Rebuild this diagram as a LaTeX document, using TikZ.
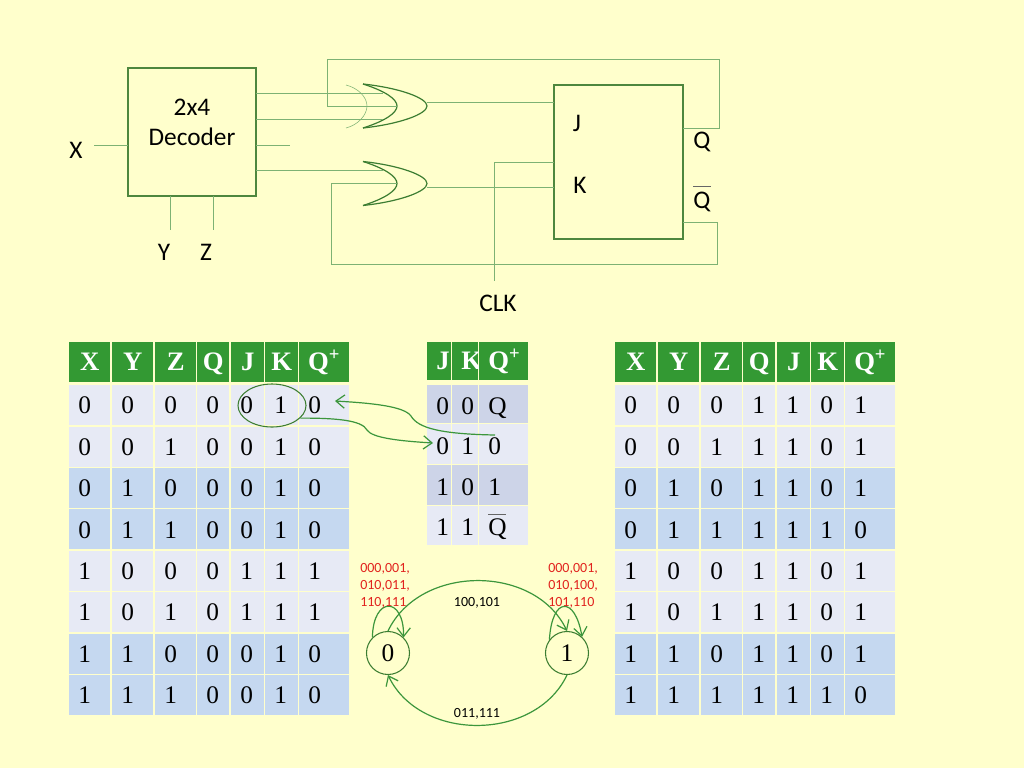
\documentclass[tikz,border=0pt]{standalone}
\usepackage{fontspec}
\setmainfont{Liberation Serif}
\newfontfamily\calfont{Carlito}
\usetikzlibrary{arrows.meta,shapes.geometric}

\definecolor{bgyellow}{RGB}{255,255,204}
\definecolor{headgreen}{RGB}{51,153,51}
\definecolor{cellpale}{RGB}{231,234,245}
\definecolor{cellblue}{RGB}{197,216,240}
\definecolor{cellshade}{RGB}{205,212,232}
\definecolor{boxgreen}{RGB}{78,135,62}
\definecolor{wiregreen}{RGB}{125,178,115}
\definecolor{gatedark}{RGB}{60,125,50}
\definecolor{arrowgreen}{RGB}{60,150,60}
\definecolor{redtext}{RGB}{225,35,30}

\tikzset{
  bodycell/.style={anchor=north west, inner ysep=0pt, inner xsep=6.8pt, text height=12.8pt, text depth=0pt, align=left, font=\fontsize{19}{21}\selectfont},
  headcell/.style={bodycell, fill=headgreen, text=white, font=\fontsize{20}{22}\selectfont\bfseries},
  circuitbox/.style={draw=boxgreen, line width=1.1pt, inner sep=0pt, outer sep=0pt},
  wire/.style={draw=wiregreen, line width=0.6pt},
  gate/.style={draw=gatedark, line width=0.9pt},
  cirlabel/.style={inner sep=0pt, font=\calfont\fontsize{19}{22.5}\selectfont},
  statenode/.style={draw=gatedark, circle, line width=0.8pt, inner sep=0pt, minimum size=32.25pt, font=\fontsize{19}{21}\selectfont},
  trans/.style={draw=arrowgreen, line width=0.9pt, -{Straight Barb[length=6.5pt,width=10pt]}},
  edgelabel/.style={inner sep=0pt, font=\calfont\fontsize{10.5}{12.75}\selectfont},
  redlabel/.style={edgelabel, text=redtext, align=left, anchor=north west}
}

\newcommand{\qbar}{\leavevmode\rlap{\raisebox{.82em}{\color{black!60}\rule{.7em}{.04em}}}Q}
\newcommand{\qplus}{Q\textsuperscript{+}}
\def\colx{{69,112,155,197,231,265,299}}
\def\colw{{41,41,41,32,33,33,50}}

\newcommand{\truthtable}[3]{%
  \foreach \k/\hd in {1/X,2/Y,3/Z,4/Q,5/J,6/K,7/\qplus} {
    \pgfmathsetmacro\cx{\colx[\k-1]+#2}
    \pgfmathsetmacro\cw{\colw[\k-1]*0.75}
    \node[headcell, align=center, inner xsep=0pt, text width=\cw pt, minimum height=30pt] (#1h\k) at (\cx,342) {\hd};
  }
  \foreach [count=\i] \vals in {#3} {
    \pgfmathtruncatemacro\pale{mod(\i-1,4)<2}
    \ifnum\pale=1 \def\rowfill{cellpale}\else\def\rowfill{cellblue}\fi
    \pgfmathsetmacro\cy{385+41.4*(\i-1)}
    \foreach [count=\k] \v in \vals {
      \pgfmathsetmacro\cx{\colx[\k-1]+#2}
      \pgfmathsetmacro\tw{\colw[\k-1]*0.75-13.6}
      \node[bodycell, fill=\rowfill, text width=\tw pt, minimum height=30pt] (#1\i\k) at (\cx,\cy) {\v};
    }
  }
}

\begin{document}
\begin{tikzpicture}[x=0.75pt,y=-0.75pt]
  \fill[bgyellow] (0,0) rectangle (1024,768);

  % circuit
  \node[circuitbox, minimum width=96pt, minimum height=96pt] (dec) at (192,132) {};
  \node[cirlabel, align=center] (declabel) at (192,122) {2x4\\Decoder};
  \node[circuitbox, minimum width=96.75pt, minimum height=115.5pt] (ff) at (618.5,162) {};

  \node[cirlabel] (xlabel) at (76,150) {X};
  \node[cirlabel] (ylabel) at (164,252) {Y};
  \node[cirlabel] (zlabel) at (206,252) {Z};
  \node[cirlabel] (jlabel) at (577,123) {J};
  \node[cirlabel] (klabel) at (580,185) {K};
  \node[cirlabel] (qlabel) at (702,142) {Q};
  \node[cirlabel, anchor=base] (qblabel) at (702,208) {\qbar};
  \node[cirlabel] (clklabel) at (498,303) {CLK};

  \foreach \g/\y in {1/106,2/183.5} {
    \draw[gate] (363,\y-22) .. controls (385,\y-15) and (397,\y-7) .. (397,\y) .. controls (397,\y+7) and (385,\y+15) .. (363,\y+22);
    \draw[gate] (363,\y-22) .. controls (400,\y-18) and (427,\y-8) .. (427,\y) .. controls (427,\y+8) and (400,\y+18) .. (363,\y+22);
  }
  \draw[wiregreen, line width=0.4pt] (346,85) .. controls (358,88) and (367,97) .. (367,106) .. controls (367,115) and (358,125) .. (346,128);

  \coordinate (xin) at (94,145);
  \coordinate (yout) at (170,230);
  \coordinate (zout) at (213,230);
  \coordinate (or1a) at (383,93.5);
  \coordinate (or1b) at (383,119);
  \coordinate (deccut) at (290,145);
  \coordinate (or2a) at (383,170);
  \coordinate (or1fb) at (397,106);
  \coordinate (or2fb) at (397,183);
  \coordinate (or1out) at (427,102);
  \coordinate (or2out) at (427,187);
  \coordinate (qout) at (683,128);
  \coordinate (qbout) at (683,222);
  \coordinate (clkin) at (554,162);
  \coordinate (clkend) at (494,281);

  \draw[wire] (xin) -- (dec.west |- xin);
  \draw[wire] (dec.south -| yout) -- (yout);
  \draw[wire] (dec.south -| zout) -- (zout);
  \draw[wire] (dec.east |- or1a) -- (or1a);
  \draw[wire] (dec.east |- or1b) -- (or1b);
  \draw[wire] (dec.east |- deccut) -- (deccut);
  \draw[wire] (dec.east |- or2a) -- (or2a);
  \draw[wire] (or1out) -- (ff.west |- or1out);
  \draw[wire] (or2out) -- (ff.west |- or2out);
  \draw[wire] (clkin) -- (494,162) -- (clkend);
  \draw[wire] (qout) -- (719,128) -- (719,59) -- (327,59) -- (327,106) -- (or1fb);
  \draw[wire] (qbout) -- (717,222) -- (717,264) -- (331,264) -- (331,183) -- (or2fb);

  % tables
  \truthtable{lt}{0}{{0,0,0,0,0,1,0},{0,0,1,0,0,1,0},{0,1,0,0,0,1,0},{0,1,1,0,0,1,0},{1,0,0,0,1,1,1},{1,0,1,0,1,1,1},{1,1,0,0,0,1,0},{1,1,1,0,0,1,0}}
  \truthtable{rt}{546}{{0,0,0,1,1,0,1},{0,0,1,1,1,0,1},{0,1,0,1,1,0,1},{0,1,1,1,1,1,0},{1,0,0,1,1,0,1},{1,0,1,1,1,0,1},{1,1,0,1,1,0,1},{1,1,1,1,1,1,0}}

  \foreach \k/\x/\w/\hd in {1/427/4.4/J,2/452/5.9/K,3/479/23.15/\qplus} {
    \node[headcell, text width=\w pt, minimum height=28.5pt] (mth\k) at (\x,342) {\hd};
  }
  \foreach \i/\y/\h/\rowfill/\vals in {1/385/28.5/cellshade/{0,0,Q},2/424/30/cellpale/{0,1,0},3/465/30/cellshade/{1,0,1},4/506/29.25/cellpale/{1,1,\qbar}} {
    \foreach \k/\x/\w [count=\n] in {1/427/4.4,2/452/5.9,3/479/23.15} {
      \foreach \v [count=\m] in \vals {
        \ifnum\m=\n
          \node[bodycell, fill=\rowfill, text height=14.8pt, text width=\w pt, minimum height=\h pt] (mt\i\k) at (\x,\y) {\v};
        \fi
      }
    }
  }

  % arrows over the tables
  \node[draw=gatedark, ellipse, line width=0.8pt, inner sep=0pt, minimum width=51pt, minimum height=32.25pt] (jkoval) at (272,405.5) {};
  \coordinate (qsrc) at (495,435);
  \coordinate (qdst) at (335,401);
  \coordinate (jkdst) at (433,443);
  \draw[trans] (qsrc) .. controls (440,434) and (418,428) .. (411,416) .. controls (404,406) and (370,403) .. (qdst);
  \draw[trans] (jkoval.-24) .. controls (335,418) and (362,420) .. (367,430) .. controls (372,438) and (400,441) .. (jkdst);

  % state diagram
  \node[statenode] (s0) at (388,653) {0};
  \node[statenode] (s1) at (567,653) {1};
  \draw[trans] (s0.135) .. controls (373,596) and (404,596) .. (s0.45);
  \draw[trans] (s1.143) .. controls (552,596) and (575,596) .. (s1.47);
  \draw[trans] (s0.north) .. controls (420,564) and (535,564) .. (s1.north);
  \draw[trans] (s1.south) .. controls (535,742) and (420,742) .. (s0.south);
  \node[redlabel] (loop0) at (360,563) {000,001,\\010,011,\\110,111};
  \node[redlabel] (loop1) at (548,563) {000,001,\\010,100,\\101,110};
  \node[edgelabel] (up) at (477,603) {100,101};
  \node[edgelabel] (down) at (477,714) {011,111};
\end{tikzpicture}
\end{document}
